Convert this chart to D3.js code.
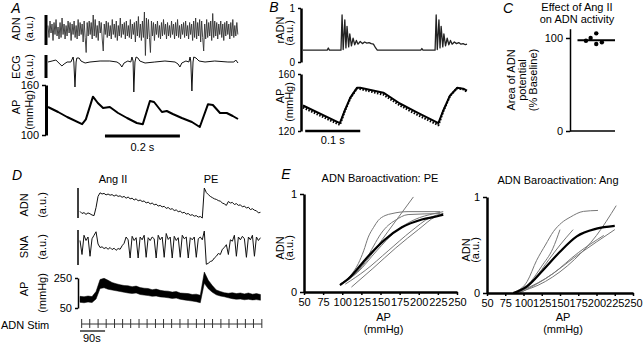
<!DOCTYPE html>
<html>
<head>
<meta charset="utf-8">
<script src="https://cdn.jsdelivr.net/npm/d3@7"></script>
<style>
  body { margin: 0; background: #fff; }
  svg { display: block; font-family: "Liberation Sans", Arial, sans-serif; }
</style>
</head>
<body>
<div id="fig"></div>
<script>
// ---------------- data ----------------

// A: ADN raw (a.u.), one sample every adnA_dt ms
var adnA_dt = 2.68;
var adnA = [
  0.3,-0.5,0.6,-0.2,0.4,-0.7,0.5,-0.3,0.7,-0.4,0.2,-0.6,0.5,-0.5,0.8,-0.3,0.4,-0.6,0.3,-0.4,
  0.6,-0.2,0.5,-0.7,0.4,-0.3,0.6,-0.5,0.3,-0.6,0.7,-0.4,0.5,-0.3,0.4,-0.8,0.6,-0.5,-1.5,0.5,
  -0.4,0.6,-0.3,0.5,-0.6,1.0,-0.4,0.7,-0.5,0.3,-0.7,0.6,-0.2,0.5,-0.6,-1.4,0.4,-0.3,0.6,-0.5,
  0.5,-0.4,0.3,-0.6,0.7,-0.3,0.4,-0.5,0.6,-0.7,0.3,-0.4,0.8,-0.5,0.4,-0.3,0.5,-0.6,0.6,-0.4,
  0.3,-0.5,0.7,-0.6,0.4,-0.3,0.5,-0.8,0.6,-0.4,0.9,-0.5,0.4,-0.7,0.6,-0.5,1.2,-1.7,0.8,-0.6,
  0.7,-0.5,-1.5,0.6,-0.4,0.5,-0.7,0.4,-0.3,0.6,-0.5,0.3,-0.6,0.5,-0.4,0.7,-0.3,0.4,-0.6,0.5,
  -0.4,0.3,-0.5,0.6,-0.3,0.4,-0.6,0.5,-0.4,0.7,-0.5,0.3,-0.6,0.4,-0.3,0.5,-0.5,0.6,-0.4,0.3,
  -0.6,0.5,-0.3,0.4,-0.7,0.6,-0.5,0.8,-0.6,0.5,-0.4,0.7,-0.8,0.6,-0.5,-1.4,0.4,-0.6,0.7,-0.5,
  0.5,-0.4,0.6,-0.7,1.1,-0.5,0.6,-0.4,0.5,-0.6,0.4,-0.3,0.6,-0.5,0.4,-0.7,0.5,-0.4,0.6,-0.3,
  0.4,-0.6,0.5,-0.4,0.7,-0.5,0.3,-0.4,0.5,-0.3
];
// A: ECG [ms, a.u.]
var ecgA = [
  [0,0],[11,0.05],[21,0.1],[29,-0.05],[37,-0.2],[43,-0.1],[51,0],[61,0],[67,0.25],[69,0],
  [72,-1.25],[75,0],[77,0.2],[83,0.2],[88,0.05],[99,-0.05],[112,0],[139,0.05],[165,0.05],[184,0],
  [192,-0.1],[197,-0.25],[203,-0.05],[213,0.05],[221,0],[224,0.25],[227,0.05],[229,-1.5],[232,0],
  [235,0.25],[240,0.2],[245,0.05],[259,-0.05],[285,0],[312,0.05],[339,0],[347,-0.1],[352,-0.25],
  [357,-0.05],[368,0.05],[376,0],[379,0.25],[381,0.05],[384,-1.45],[387,0],[389,0.25],[395,0.2],
  [403,0.05],[419,0],[445,0.05],[480,0],[496,0],[501,0.1],[507,-0.05]
];
var ecgBar = [-0.8, 0.35];
// A: arterial pressure [ms, mmHg]
var apA = [
  [0,133.6],[27,127.6],[51,121.6],[91,113],[101,118.8],[120,146],[133,138.4],[147,132.4],
  [165,133.6],[187,126.4],[211,120.4],[237,114.4],[253,113],[272,140.8],[283,139.6],[304,127.6],
  [317,128.8],[333,125.2],[357,120.4],[384,115.6],[405,109.6],[427,137],[440,136],[459,126.4],
  [477,126.4],[493,122.8],[507,119.2]
];
var apA_ticks = [100, 160];
var scaleA = [152, 352]; // 0.2 s

// B: rectified ADN [ms, a.u.]
var radnB = [
  [0,0.22],[44,0.22],[46,0.26],[48,0.22],[69,0.22],[71,0.87],[73,0.23],[76,0.78],[78,0.26],
  [80,0.66],[83,0.28],[85,0.52],[88,0.3],[91,0.44],[94,0.32],[97,0.4],[100,0.33],[104,0.38],
  [108,0.34],[112,0.37],[116,0.35],[120,0.36],[124,0.34],[128,0.33],[132,0.26],[135,0.22],
  [214,0.22],[216,0.25],[218,0.22],[240,0.22],[242,0.87],[244,0.23],[247,0.78],[249,0.26],
  [251,0.66],[254,0.28],[256,0.52],[259,0.3],[262,0.44],[265,0.32],[268,0.4],[271,0.33],
  [275,0.37],[279,0.34],[283,0.36],[287,0.33],[291,0.34],[295,0.32],[298,0.33]
];
// B: AP recorded (solid) and fitted (dotted) [ms, mmHg]
var apB = [
  [0,137.9],[67,125.5],[76,134.5],[86,143.4],[98,150.3],[104,150.3],[146,146.9],[176,139.3],
  [207,133.1],[246,125.5],[255,134.5],[267,144.8],[280,150.3],[291,149.7],[298,148.3]
];
var apBfit = [
  [0,136.5],[67,124.3],[76,134],[86,143],[98,150],[104,149.5],[146,145.5],[176,138],
  [207,131.5],[246,124.1],[255,134],[267,144.5],[280,150],[291,149.3],[298,147.5]
];
var scaleB = [4, 104]; // 0.1 s

// C: area of ADN potential (% baseline)
var cValues = [97, 100, 105, 93.5, 95.5];
var cJitter = [-0.55, -0.3, 0, 0, 0.3];
var cMean = 97.5;

// D: slow recordings, one sample every 7.2 s (ADN, SNA), 14.4 s (AP)
var adnD = [
  0.22,0.15,0.18,0.12,0.17,0.14,0.1,0.08,0.35,0.72,0.84,0.8,0.82,0.77,0.8,0.76,0.78,0.73,0.77,0.72,
  0.74,0.69,0.72,0.66,0.7,0.64,0.66,0.6,0.64,0.57,0.6,0.55,0.57,0.5,0.53,0.47,0.5,0.44,0.46,0.4,
  0.42,0.37,0.39,0.32,0.35,0.29,0.31,0.25,0.27,0.21,0.23,0.17,0.19,0.13,0.15,0.09,0.11,0.06,0.08,0.03,
  0.05,0.0,1.0,0.85,0.78,0.72,0.68,0.64,0.62,0.58,0.56,0.5,0.47,0.42,0.55,0.5,0.52,0.45,0.48,0.42,
  0.44,0.37,0.4,0.33,0.36,0.28,0.31,0.26,0.24,0.17,0.19
];
var snaD = [
  0.7,0.3,0.85,0.7,0.8,0.25,0.75,0.85,0.95,0.6,0.5,0.52,0.47,0.5,0.45,0.5,0.44,0.48,0.42,0.47,
  0.45,0.55,0.62,0.8,0.72,0.2,0.82,0.7,0.78,0.2,0.8,0.72,0.85,0.22,0.78,0.7,0.8,0.75,0.2,0.85,
  0.72,0.8,0.22,0.9,0.73,0.8,0.2,0.82,0.7,0.78,0.22,0.85,0.75,0.8,0.2,0.78,0.72,0.8,0.22,0.75,
  0.8,0.72,0.97,0.02,0.05,0.1,0.12,0.2,0.25,0.33,0.3,0.45,0.5,0.58,0.3,0.72,0.68,0.85,0.25,0.8,
  0.72,0.82,0.75,0.22,0.8,0.72,0.85,0.25,0.8,0.7,0.78
];
var apDsys = [
  128,125,130,126,160,240,248,235,220,212,205,200,198,192,196,186,182,180,172,176,
  168,164,162,156,160,150,148,146,140,142,135,290,235,200,170,160,152,148,152,146,
  150,144,150,142,146,140
];
var apDdia = [
  88,85,90,86,110,180,185,175,170,165,160,155,150,147,150,140,136,133,128,130,
  124,122,118,114,116,108,104,100,96,92,85,215,178,155,138,130,125,118,112,108,
  110,105,108,104,106,102
];
var apD_ticks = [50, 250];
var stimTimes = [6,35,65,94,124,153,182,212,241,271,300,329,359,388,418,447,476,506,535,565,594,623,653];
var scaleD = [0, 90]; // 90 s

// E: ADN baroreflex curves [AP mmHg, ADN a.u.]
var pePigs = [
  [[99,0.09],[110,0.16],[121,0.29],[128,0.42],[134,0.56],[141,0.66],[147,0.73],[156,0.78],[165,0.8],[186,0.82],[228,0.82]],
  [[97,0.07],[115,0.17],[131,0.33],[141,0.47],[151,0.6],[160,0.68],[169,0.73],[186,0.79],[228,0.8]],
  [[97,0.08],[115,0.17],[130,0.3],[160,0.62],[193,0.97]],
  [[112,0.05],[140,0.24],[170,0.45],[200,0.64],[222,0.77],[232,0.8]],
  [[104,0.08],[130,0.22],[160,0.42],[190,0.62],[215,0.76],[232,0.8]],
  [[97,0.08],[120,0.2],[145,0.42],[170,0.62],[195,0.74],[220,0.8],[232,0.82]]
];
var peMean = [[97,0.07],[110,0.15],[130,0.33],[155,0.53],[178,0.66],[204,0.74],[228,0.78],[232,0.79]];
var angPigs = [
  [[88,0.01],[105,0.12],[118,0.34],[130,0.5],[141,0.64],[152,0.73],[164,0.79],[182,0.85],[202,0.86]],
  [[86,0],[110,0.12],[125,0.28],[140,0.46],[150,0.66]],
  [[86,0],[115,0.15],[135,0.35],[150,0.5],[168,0.66]],
  [[90,0],[130,0.12],[170,0.35],[200,0.6],[227,0.91]],
  [[90,0],[130,0.15],[175,0.4],[225,0.66]],
  [[95,0],[140,0.2],[175,0.42],[210,0.6]]
];
var angMean = [[86,0],[105,0.07],[127,0.24],[150,0.43],[173,0.59],[200,0.67],[225,0.7]];
var eTicks = [50,75,100,125,150,175,200,225,250];

// ---------------- drawing ----------------
var svg = d3.select("#fig").append("svg")
    .attr("width", 643)
    .attr("height", 343);

var intFmt = d3.format("d");

function label(x, y, s, size, anchor, italic) {
  var t = svg.append("text")
    .attr("x", x).attr("y", y)
    .attr("font-size", size || 11)
    .attr("text-anchor", anchor || "middle")
    .text(s);
  if (italic) t.attr("font-style", "italic");
  return t;
}
function vlabel(x, y, s) {
  svg.append("text")
    .attr("transform", "translate(" + x + "," + y + ") rotate(-90)")
    .attr("font-size", 11)
    .attr("text-anchor", "middle")
    .text(s);
}
function bar(x1, y1, x2, y2, w) {
  svg.append("line")
    .attr("x1", x1).attr("y1", y1).attr("x2", x2).attr("y2", y2)
    .attr("stroke", "#000").attr("stroke-width", w);
}
function trace(data, line, color, w) {
  return svg.append("path").datum(data)
    .attr("d", line)
    .attr("fill", "none")
    .attr("stroke", color)
    .attr("stroke-width", w)
    .attr("stroke-linejoin", "round");
}
function styleAxis(g, w) {
  g.attr("font-family", null).attr("font-size", 11);
  g.select(".domain").attr("stroke-width", w);
  g.selectAll(".tick line").attr("stroke-width", 1.5);
}

// ----- A -----
var xA = d3.scaleLinear().domain([0, 507]).range([48, 238]);
var yAdnA = d3.scaleLinear().domain([-1, 1]).range([45, 15]);
var yEcgA = d3.scaleLinear().domain([0, 1]).range([62, 42]);
var yApA = d3.scaleLinear().domain([100, 160]).range([135, 85]);

label(16, 13, "A", 14, "middle", true);
trace(adnA, d3.line().x((d, i) => xA(i * adnA_dt)).y(d => yAdnA(d)), "#333", 0.9);
trace(ecgA, d3.line().x(d => xA(d[0])).y(d => yEcgA(d[1])), "#111", 1);
trace(apA, d3.line().x(d => xA(d[0])).y(d => yApA(d[1])), "#000", 2);

bar(46, yAdnA(1), 46, yAdnA(-1), 3);
bar(46, yEcgA(ecgBar[1]), 46, yEcgA(ecgBar[0]), 3);
var axA = svg.append("g").attr("transform", "translate(46,0)")
  .call(d3.axisLeft(yApA).tickValues(apA_ticks).tickSize(4).tickSizeOuter(0));
styleAxis(axA, 3);

vlabel(20, 29, "ADN"); vlabel(33, 29, "(a.u.)");
vlabel(20, 67, "ECG"); vlabel(33, 67, "(a.u.)");
vlabel(20, 107, "AP"); vlabel(33, 110, "(mmHg)");

bar(xA(scaleA[0]), 136, xA(scaleA[1]), 136, 3);
label((xA(scaleA[0]) + xA(scaleA[1])) / 2, 151, "0.2 s");

// ----- B -----
var xB = d3.scaleLinear().domain([0, 298]).range([303, 467]);
var yRadnB = d3.scaleLinear().domain([0, 1]).range([62, 8]);
var yApB = d3.scaleLinear().domain([120, 160]).range([131, 74]);

label(274, 12, "B", 14, "middle", true);
trace(radnB, d3.line().x(d => xB(d[0])).y(d => yRadnB(d[1])), "#222", 1.3);
trace(apB, d3.line().x(d => xB(d[0])).y(d => yApB(d[1])), "#000", 2);
trace(apBfit, d3.line().x(d => xB(d[0])).y(d => yApB(d[1])), "#000", 2.2)
  .attr("stroke-dasharray", "1.5,1.5");

var axB1 = svg.append("g").attr("transform", "translate(301,0)")
  .call(d3.axisLeft(yRadnB).tickValues([0, 1]).tickFormat(intFmt).tickSize(3).tickSizeOuter(0));
styleAxis(axB1, 2.5);
var axB2 = svg.append("g").attr("transform", "translate(301,0)")
  .call(d3.axisLeft(yApB).tickValues([120, 160]).tickSize(3).tickSizeOuter(0));
styleAxis(axB2, 2.5);
axB1.attr("font-size", 10);
axB2.attr("font-size", 10);

vlabel(284, 30, "rADN"); vlabel(293, 33, "(a.u.)");
vlabel(284, 96, "AP"); vlabel(293, 102, "(mmHg)");

bar(xB(scaleB[0]), 131, xB(scaleB[1]), 131, 2.5);
label((xB(scaleB[0]) + xB(scaleB[1])) / 2, 144, "0.1 s");

// ----- C -----
var yC = d3.scaleLinear().domain([0, 110]).range([131, 28.7]);
var xC = d3.scaleLinear().domain([-1.4, 1]).range([570, 615]);

label(508, 13, "C", 14, "middle", true);
label(577, 11, "Effect of Ang II");
label(577, 23, "on ADN activity");

var axC = svg.append("g").attr("transform", "translate(570,0)")
  .call(d3.axisLeft(yC).tickValues([0, 100]).tickSize(4).tickSizeOuter(0));
styleAxis(axC, 1.5);
bar(xC.range()[0], yC(0), xC.range()[1], yC(0), 1.5);

bar(xC(-1), yC(cMean), xC(1), yC(cMean), 2);
svg.selectAll("circle.c").data(cValues).enter().append("circle")
  .attr("class", "c")
  .attr("cx", (d, i) => xC(cJitter[i]))
  .attr("cy", d => yC(d))
  .attr("r", 2.2)
  .attr("fill", "#000");

vlabel(515, 80, "Area of ADN");
vlabel(526, 80, "potential");
vlabel(537, 80, "(% Baseline)");

// ----- D -----
var xD = d3.scaleLinear().domain([0, 650]).range([80, 261]);
var yAdnD = d3.scaleLinear().domain([0, 1]).range([218, 188]);
var ySnaD = d3.scaleLinear().domain([0, 1]).range([265, 230]);
var yApD = d3.scaleLinear().domain([50, 250]).range([308, 278]);

label(17, 180, "D", 14, "middle", true);
label(113, 183, "Ang II");
label(211, 183, "PE");

trace(adnD, d3.line().x((d, i) => xD(i * 7.2)).y(d => yAdnD(d)), "#111", 1);
trace(snaD, d3.line().x((d, i) => xD(i * 7.2)).y(d => ySnaD(d)), "#111", 1);
svg.append("path").datum(apDsys)
  .attr("d", d3.area()
    .x((d, i) => xD(i * 14.4))
    .y0((d, i) => yApD(apDdia[i]))
    .y1(d => yApD(d)))
  .attr("fill", "#000")
  .attr("stroke", "#000")
  .attr("stroke-width", 0.5);

bar(78, yAdnD(1), 78, yAdnD(0), 1.5);
bar(78, ySnaD(1), 78, ySnaD(0), 1.5);
var axD = svg.append("g").attr("transform", "translate(78,0)")
  .call(d3.axisLeft(yApD).tickValues(apD_ticks).tickSize(3).tickSizeOuter(0));
styleAxis(axD, 1.5);

vlabel(28, 205, "ADN"); vlabel(46, 205, "(a.u.)");
vlabel(28, 247, "SNA"); vlabel(46, 247, "(a.u.)");
vlabel(28, 289, "AP"); vlabel(46, 293, "(mmHg)");

label(1, 329, "ADN Stim", 11, "start");
svg.append("line")
  .attr("x1", xD(stimTimes[0])).attr("x2", xD(stimTimes[stimTimes.length - 1]))
  .attr("y1", 324).attr("y2", 324)
  .attr("stroke", "#333").attr("stroke-width", 1);
svg.selectAll("line.stim").data(stimTimes).enter().append("line")
  .attr("class", "stim")
  .attr("x1", d => xD(d)).attr("x2", d => xD(d))
  .attr("y1", 319).attr("y2", 328)
  .attr("stroke", "#333").attr("stroke-width", 1);

bar(xD(scaleD[0]), 331, xD(scaleD[1]), 331, 1.2);
label(83, 342, "90s", 11, "start");

// ----- E -----
label(286, 179, "E", 14, "middle", true);

function curvePanel(xs, ys, pigs, mean, title, tx, ty, lx) {
  var ln = d3.line().curve(d3.curveMonotoneX).x(d => xs(d[0])).y(d => ys(d[1]));
  label(tx, ty, title);
  pigs.forEach(function(p) { trace(p, ln, "#777", 1); });
  trace(mean, ln, "#000", 2.2);

  var gx = svg.append("g").attr("transform", "translate(0," + ys(0) + ")")
    .call(d3.axisBottom(xs).tickValues(eTicks).tickSize(3).tickSizeOuter(0));
  styleAxis(gx, 2.5);
  var gy = svg.append("g").attr("transform", "translate(" + xs(50) + ",0)")
    .call(d3.axisLeft(ys).tickValues([0, 1]).tickFormat(intFmt).tickSize(4).tickSizeOuter(0));
  styleAxis(gy, 2.5);

  var cx = (xs.range()[0] + xs.range()[1]) / 2;
  label(cx + 3, 321, "AP");
  label(cx + 3, 333, "(mmHg)");
  vlabel(lx, (ys(0) + ys(1)) / 2 + 5, "ADN");
  vlabel(lx + 9, (ys(0) + ys(1)) / 2 + 5, "(a.u.)");
}

var xEL = d3.scaleLinear().domain([50, 250]).range([304, 457]);
var yEL = d3.scaleLinear().domain([0, 1]).range([292, 194]);
curvePanel(xEL, yEL, pePigs, peMean, "ADN Baroactivation: PE", 380, 182, 284);

var xER = d3.scaleLinear().domain([50, 250]).range([487, 633]);
var yER = d3.scaleLinear().domain([0, 1]).range([293, 197]);
curvePanel(xER, yER, angPigs, angMean, "ADN Baroactivation: Ang", 558, 184, 470);
</script>
</body>
</html>
